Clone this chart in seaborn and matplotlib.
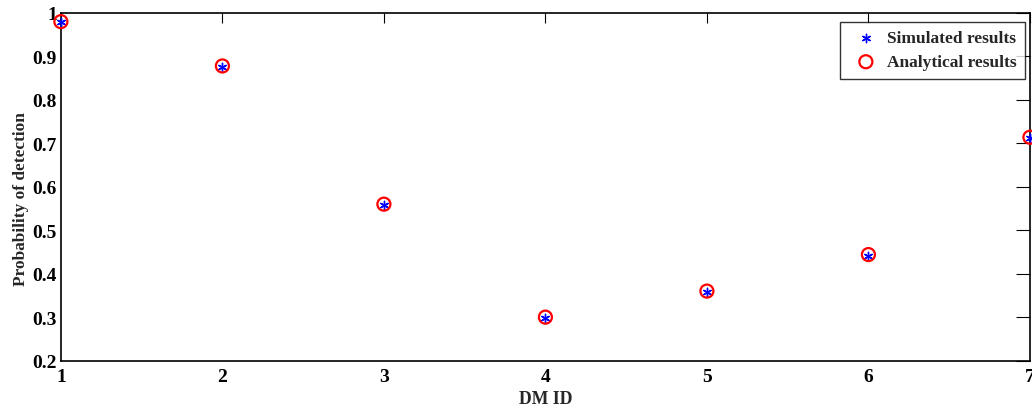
import pandas as pd
import seaborn as sns
import matplotlib.pyplot as plt

# ======================= data ======================= #
dm_id = [1, 2, 3, 4, 5, 6, 7]
simulated = [0.979, 0.876, 0.559, 0.299, 0.359, 0.441, 0.713]
analytical = [0.980, 0.878, 0.560, 0.300, 0.360, 0.444, 0.714]

dataFrame = pd.DataFrame({'DM ID': dm_id, 'Simulated': simulated, 'Analytical': analytical})

sns.set_style('white')
plt.rcParams['font.family'] = ['Liberation Serif', 'DejaVu Serif']
plt.rcParams['font.weight'] = 'bold'

fig = plt.figure(figsize=(10.32, 4.1), dpi=100)
ax = fig.add_axes([0.059, 0.118, 0.939, 0.848])

# MATLAB-like '*' marker: an asterisk drawn with lines
sns.scatterplot(data=dataFrame, x='DM ID', y='Simulated', ax=ax, marker=(6, 2, 0), color='blue',
                s=36, edgecolor='blue', linewidth=1.0, label='Simulated results', clip_on=False, zorder=3)
sns.scatterplot(data=dataFrame, x='DM ID', y='Analytical', ax=ax, marker='o', facecolor='none',
                edgecolor='red', s=88, linewidth=1.6, label='Analytical results', clip_on=False, zorder=4)

ax.set_xlim(1, 7)
ax.set_ylim(0.2, 1.0)
ax.set_xticks(dm_id)
ax.set_yticks([0.2, 0.3, 0.4, 0.5, 0.6, 0.7, 0.8, 0.9, 1.0])
ax.set_yticklabels(['0.2', '0.3', '0.4', '0.5', '0.6', '0.7', '0.8', '0.9', '1'])
ax.tick_params(direction='in', width=0.8, top=True, right=True,
               labelsize=14, colors='black')
ax.tick_params(axis='x', length=7, pad=5)
ax.tick_params(axis='y', length=10, pad=3)
for lbl in ax.get_xticklabels() + ax.get_yticklabels():
    lbl.set_fontweight('bold')
for sp in ax.spines.values():
    sp.set_color('black')
    sp.set_linewidth(1.2)

ax.set_xlabel('DM ID', fontsize=12.7, fontweight='bold', labelpad=4)
ax.set_ylabel('Probability of detection', fontsize=12.4, fontweight='bold')
ax.yaxis.set_label_coords(-0.033, 0.468)

leg = ax.legend(loc='upper right', bbox_to_anchor=(1025 / 1032, 1 - 22.5 / 410),
                bbox_transform=fig.transFigure, borderaxespad=0,
                fontsize=12.5, frameon=True, fancybox=False, edgecolor='black',
                handletextpad=0.2, handlelength=2.0, borderpad=0.5, labelspacing=0.45)
leg.get_frame().set_linewidth(1.0)
for t in leg.get_texts():
    t.set_fontweight('bold')

fig.savefig('out.png', dpi=100)
